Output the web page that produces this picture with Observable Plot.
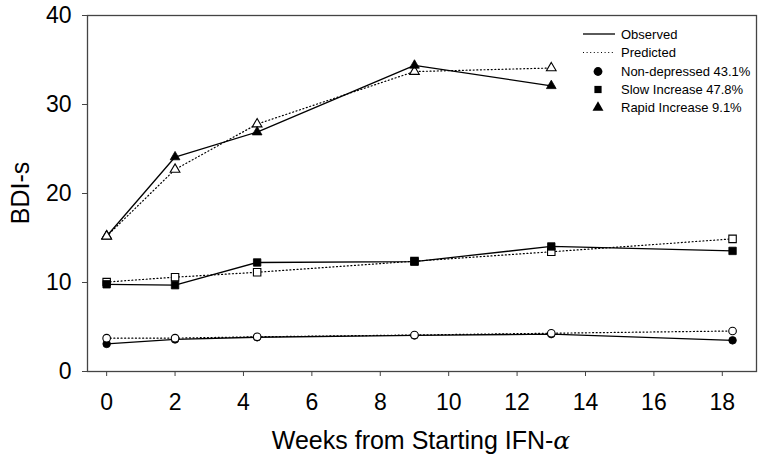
<!DOCTYPE html>
<html>
<head>
<meta charset="utf-8">
<script src="https://cdn.jsdelivr.net/npm/d3@7"></script>
<script src="https://cdn.jsdelivr.net/npm/@observablehq/plot@0.6"></script>
<style>
  html, body { margin: 0; padding: 0; background: #fff; }
  #chart { width: 762px; height: 464px; }
  svg { font-family: "Liberation Sans", Arial, sans-serif; }
</style>
</head>
<body>
<div id="chart"></div>
<script>
// ---- data ----
const weeks = [0, 2, 4.4, 9, 13, 18.3];
const rapidWeeks = [0, 2, 4.4, 9, 13];
const nonObs = [3.1, 3.6, 3.85, 4.05, 4.2, 3.5];
const nonPred = [3.75, 3.75, 3.9, 4.1, 4.3, 4.55];
const slowObs = [9.8, 9.7, 12.25, 12.35, 14.05, 13.55];
const slowPred = [10.05, 10.6, 11.15, 12.4, 13.45, 14.9];
const rapidObs = [15.2, 24.1, 26.9, 34.4, 32.1];
const rapidPred = [15.2, 22.7, 27.8, 33.7, 34.1];
const groups = ["Non-depressed 43.1%", "Slow Increase 47.8%", "Rapid Increase 9.1%"];
const xTicks = [0, 2, 4, 6, 8, 10, 12, 14, 16, 18];
const yTicks = [0, 10, 20, 30, 40];

const symbolOf = {[groups[0]]: "circle", [groups[1]]: "square", [groups[2]]: "triangle"};
const rOf = {[groups[0]]: 3.8, [groups[1]]: 4.2, [groups[2]]: 3.6};

function rows(ws, obs, pred, g) {
  return ws.map((w, i) => ({week: w, obs: obs[i], pred: pred[i], group: g}));
}
const data = [
  ...rows(weeks, nonObs, nonPred, groups[0]),
  ...rows(weeks, slowObs, slowPred, groups[1]),
  ...rows(rapidWeeks, rapidObs, rapidPred, groups[2])
];

const obsDot = (sub, g) => Plot.dot(sub, {x: "week", y: "obs", symbol: () => symbolOf[g], r: rOf[g], fill: "#000", stroke: "#000", strokeWidth: 0.8});
const predDot = (sub, g) => Plot.dot(sub, {x: "week", y: "pred", symbol: () => symbolOf[g], r: rOf[g], fill: "#fff", stroke: "#000", strokeWidth: 1.1});

const marks = [
  Plot.frame({stroke: "#444", strokeWidth: 1.3}),
  Plot.line(data, {x: "week", y: "pred", z: "group", stroke: "#000", strokeWidth: 1.2, strokeDasharray: "1,2.6"}),
  Plot.line(data, {x: "week", y: "obs", z: "group", stroke: "#000", strokeWidth: 1.3})
];
// circles: predicted drawn on top
{
  const g = groups[0], sub = data.filter(d => d.group === g);
  marks.push(obsDot(sub, g), predDot(sub, g));
}
// squares: observed drawn on top
{
  const g = groups[1], sub = data.filter(d => d.group === g);
  marks.push(predDot(sub, g), obsDot(sub, g));
}
// triangles: observed on top, except the shared starting point
{
  const g = groups[2], sub = data.filter(d => d.group === g);
  marks.push(predDot(sub, g), obsDot(sub, g), predDot(sub.filter(d => d.week === 0), g));
}
marks.push(
  Plot.axisX({ticks: xTicks, tickSize: 5, tickPadding: 17, fontSize: 23, label: null, stroke: "#444"}),
  Plot.axisY({ticks: yTicks, tickSize: 5, tickPadding: 11, fontSize: 23, label: null, stroke: "#444"})
);

const plot = Plot.plot({
  width: 762,
  height: 464,
  marginLeft: 87,
  marginRight: 6,
  marginTop: 15,
  marginBottom: 93,
  x: {domain: [-0.56, 19.0]},
  y: {domain: [0, 40]},
  symbol: {type: "identity"},
  style: {fontFamily: '"Liberation Sans", Arial, sans-serif', color: "#000", background: "#fff"},
  marks
});
document.getElementById("chart").appendChild(plot);

// ---- axis titles & legend (text) ----
const svg = d3.select(plot);
const font = '"Liberation Sans", Arial, sans-serif';
const xl = svg.append("text")
  .attr("x", 421).attr("y", 449)
  .attr("text-anchor", "middle")
  .attr("font-size", 25).attr("font-family", font).attr("fill", "#000");
xl.append("tspan").text("Weeks from Starting IFN-");
xl.append("tspan").attr("font-style", "italic").attr("font-family", '"DejaVu Serif", serif').text("α");

svg.append("text")
  .attr("transform", "translate(29,193) rotate(-90)")
  .attr("text-anchor", "middle")
  .attr("font-size", 25).attr("font-family", font).attr("fill", "#000")
  .text("BDI-s");

const leg = svg.append("g").attr("font-family", font).attr("font-size", 13).attr("fill", "#000").attr("text-anchor", "start");
const legendRows = [
  {label: "Observed", kind: "solid"},
  {label: "Predicted", kind: "dotted"},
  {label: groups[0], kind: "circle"},
  {label: groups[1], kind: "square"},
  {label: groups[2], kind: "triangle"}
];
const rowY = [34, 52.5, 71.5, 89.5, 107.5];
legendRows.forEach((r, i) => {
  const y = rowY[i];
  if (r.kind === "solid" || r.kind === "dotted") {
    leg.append("line").attr("x1", 583).attr("x2", 615).attr("y1", y).attr("y2", y)
      .attr("stroke", "#000").attr("stroke-width", r.kind === "solid" ? 1.3 : 1.1)
      .attr("stroke-dasharray", r.kind === "dotted" ? "1,2.6" : null);
  } else {
    const size = r.kind === "circle" ? Math.PI * 4.4 * 4.4 : 52;
    const sym = r.kind === "circle" ? d3.symbolCircle : r.kind === "square" ? d3.symbolSquare : d3.symbolTriangle;
    leg.append("path").attr("d", d3.symbol(sym, size)()).attr("transform", `translate(598,${y})`).attr("fill", "#000");
  }
  leg.append("text").attr("x", 621).attr("y", y).attr("dy", "0.36em").attr("text-anchor", "start").text(r.label);
});
</script>
</body>
</html>
